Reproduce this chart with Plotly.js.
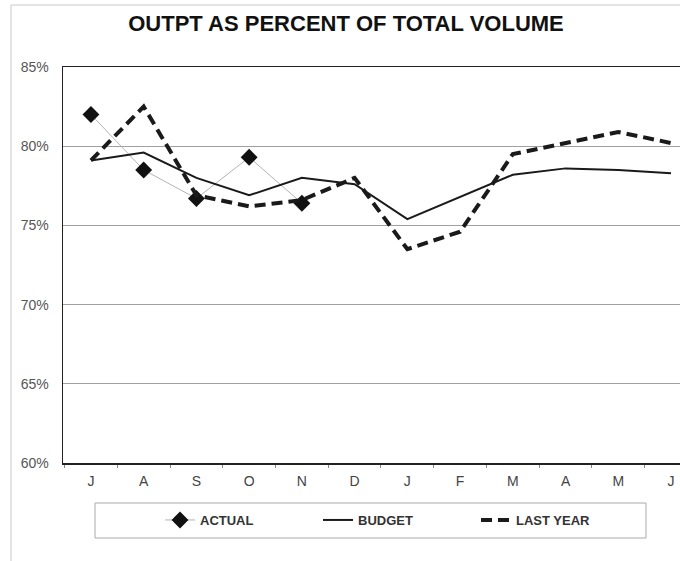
<!DOCTYPE html>
<html>
<head>
<meta charset="utf-8">
<script src="https://cdn.plot.ly/plotly-3.0.1.min.js"></script>
<style>
  html, body { margin: 0; padding: 0; background: #fff; overflow: hidden; }
  #chart { width: 680px; height: 561px; }
</style>
</head>
<body>
<div id="chart"></div>
<script>
// Fiscal-year months, July through June
const months = ['J', 'A', 'S', 'O', 'N', 'D', 'J', 'F', 'M', 'A', 'M', 'J'];

// Outpatient share of total volume, in percent
const actual   = [82.0, 78.5, 76.7, 79.3, 76.4];
const budget   = [79.1, 79.6, 78.0, 76.9, 78.0, 77.6, 75.4, 76.8, 78.2, 78.6, 78.5, 78.3];
const lastYear = [79.1, 82.5, 76.9, 76.2, 76.6, 78.0, 73.5, 74.6, 79.5, 80.2, 80.9, 80.2];

const yTicks = [60, 65, 70, 75, 80, 85];

const idx = months.map((_, i) => i);
const font = 'Liberation Sans, Arial, sans-serif';

const traces = [
  {
    name: 'ACTUAL',
    x: idx.slice(0, actual.length),
    y: actual,
    mode: 'lines+markers',
    line: { color: '#b4b4b4', width: 1 },
    marker: { symbol: 'diamond', size: 13, color: '#111' }
  },
  {
    name: 'BUDGET',
    x: idx,
    y: budget,
    mode: 'lines',
    line: { color: '#1a1a1a', width: 2 }
  },
  {
    name: 'LAST YEAR',
    x: idx,
    y: lastYear,
    mode: 'lines',
    line: { color: '#1a1a1a', width: 4, dash: '11px,6px' }
  }
];

const layout = {
  width: 680,
  height: 561,
  margin: { l: 63, r: 0, t: 67, b: 98 },
  paper_bgcolor: '#fff',
  plot_bgcolor: '#fff',
  title: {
    text: '<b>OUTPT AS PERCENT OF TOTAL VOLUME</b>',
    font: { family: font, size: 22, color: '#111' },
    x: 346 / 680,
    xanchor: 'center',
    y: 1 - 23 / 561,
    yanchor: 'middle'
  },
  xaxis: {
    range: [-0.53, 11.17],
    tickvals: idx,
    ticktext: months,
    ticks: '',
    ticklabelstandoff: 5,
    showgrid: false,
    zeroline: false,
    showline: true,
    mirror: true,
    linecolor: '#222',
    linewidth: 1.5,
    tickfont: { family: font, size: 14, color: '#444' },
    minor: { tick0: -0.5, dtick: 1, ticks: 'outside', ticklen: 3, tickcolor: '#888', showgrid: false },
    fixedrange: true
  },
  yaxis: {
    range: [60, 85],
    tickvals: yTicks,
    ticktext: yTicks.map(v => v + '%'),
    ticks: '',
    ticklabelstandoff: 10,
    showgrid: true,
    gridcolor: '#a0a0a0',
    gridwidth: 1,
    zeroline: false,
    showline: true,
    linecolor: '#222',
    linewidth: 1.5,
    tickfont: { family: font, size: 14, color: '#555' },
    fixedrange: true
  },
  showlegend: true,
  legend: {
    orientation: 'h',
    x: 160 / 617 - 63 / 617,
    xanchor: 'left',
    y: (463 - 520) / 396,
    yanchor: 'middle',
    bgcolor: 'rgba(0,0,0,0)',
    borderwidth: 0,
    entrywidth: 113,
    entrywidthmode: 'pixels',
    font: { family: font, size: 13, color: '#333', weight: 'bold' },
    traceorder: 'normal'
  },
  shapes: [
    // outer chart frame
    {
      type: 'path', xref: 'paper', yref: 'paper',
      path: 'M ' + (11 - 63) / 617 + ' ' + (-0.3) + ' L ' + (11 - 63) / 617 + ' ' + (1 + 62 / 396) + ' L 1.1 ' + (1 + 62 / 396),
      line: { color: '#c8c8c8', width: 1 }
    },
    // legend box
    {
      type: 'rect', xref: 'paper', yref: 'paper',
      x0: (95 - 63) / 617, x1: (646 - 63) / 617,
      y0: (463 - 538) / 396, y1: (463 - 503) / 396,
      line: { color: '#aaa', width: 1 }
    }
  ]
};

Plotly.newPlot('chart', traces, layout, { displayModeBar: false, staticPlot: true });
</script>
</body>
</html>
